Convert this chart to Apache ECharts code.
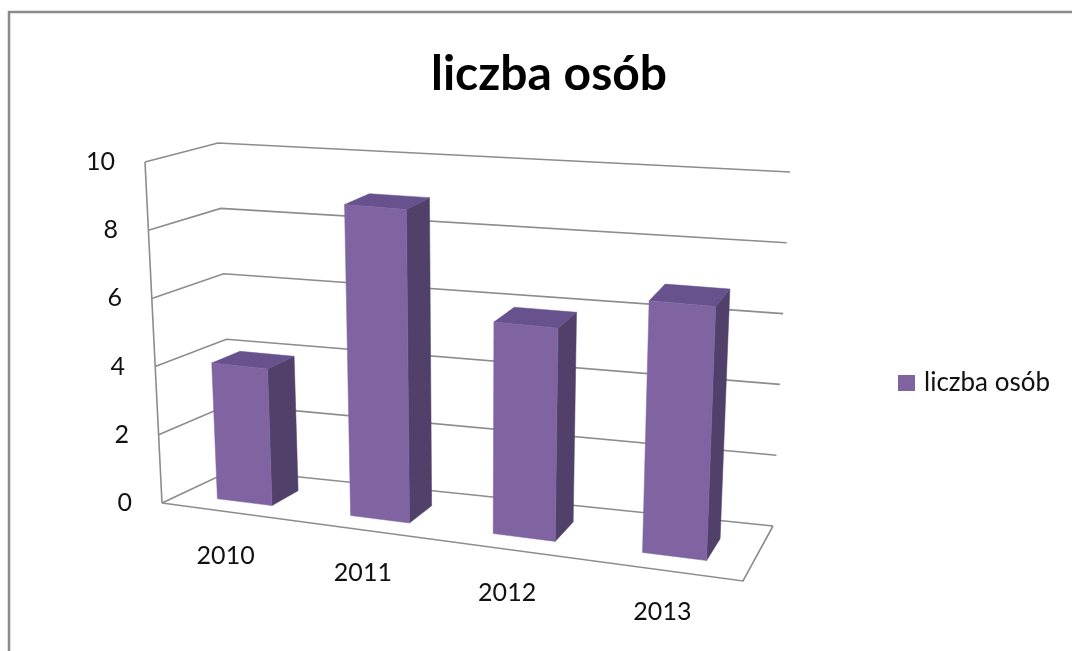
<!DOCTYPE html>
<html>
<head>
<meta charset="utf-8">
<title>liczba osób</title>
<script src="https://cdn.jsdelivr.net/npm/echarts@6/dist/echarts.min.js"></script>
<style>
html, body { margin: 0; padding: 0; background: #fff; }
#chart { width: 1072px; height: 651px; }
</style>
</head>
<body>
<div id="chart"></div>
<script>
const years = ['2010', '2011', '2012', '2013']
const liczbaOsob = [4, 9, 6, 7]
const yTicks = [0, 2, 4, 6, 8, 10]

const FONT = 'Lato, "Open Sans", sans-serif'
const LINE = '#8c8c8c'
const FRONT = '#8064a2'
const SIDE = '#51416a'
const TOP = '#67528e'

// screen corners of the pseudo-3D box: front-left, front-right, back-right, back-left
const floorCorners = [[162, 503], [743, 581], [773, 526], [232, 470]]
const topCorners = [[145, 162], [758, 212], [790, 172], [218, 143]]

const bilerp = (c, u, w) => {
  const [p00, p10, p11, p01] = c
  return [0, 1].map(k =>
    p00[k] * (1 - u) * (1 - w) + p10[k] * u * (1 - w) + p11[k] * u * w + p01[k] * (1 - u) * w)
}

// mild perspective: things on the right come out a bit wider
const warp = u => u - u * (1 - u) * (0.08 + 0.05 * (1 - u))

// u: 0..1 across, t: 0..1 up, w: 0..1 into depth
const project = (u, t, w) => {
  const uu = warp(u)
  const a = bilerp(floorCorners, uu, w)
  const b = bilerp(topCorners, uu, w)
  return [a[0] + (b[0] - a[0]) * t, a[1] + (b[1] - a[1]) * t]
}

const barRatio = 0.42
const barDepth = [0.27, 0.68]

const renderBar = (params, api) => {
  const cs = params.coordSys
  const base = api.coord([api.value(0), 0])
  const top = api.coord([api.value(0), api.value(1)])
  const band = api.size([1, 0])[0]
  const uc = (base[0] - cs.x) / cs.width
  const half = band * barRatio / 2 / cs.width
  const t = (base[1] - top[1]) / cs.height
  const u0 = uc - half, u1 = uc + half
  const [w0, w1] = barDepth
  const face = (pts, color) => ({
    type: 'polygon',
    shape: { points: pts },
    style: { fill: color, stroke: color, lineWidth: 0.5 }
  })
  return {
    type: 'group',
    children: [
      face([project(u1, 0, w0), project(u1, 0, w1), project(u1, t, w1), project(u1, t, w0)], SIDE),
      face([project(u0, t, w0), project(u1, t, w0), project(u1, t, w1), project(u0, t, w1)], TOP),
      face([project(u0, 0, w0), project(u1, 0, w0), project(u1, t, w0), project(u0, t, w0)], FRONT)
    ]
  }
}

const renderGridLine = (params, api) => {
  const cs = params.coordSys
  const p = api.coord([0, api.value(1)])
  const t = (cs.y + cs.height - p[1]) / cs.height
  const line = pts => ({
    type: 'polyline',
    shape: { points: pts },
    style: { stroke: LINE, lineWidth: 1.6, fill: null }
  })
  const children = [line([project(0, t, 0), project(0, t, 1), project(1, t, 1)])]
  if (api.value(1) === 0) {
    children.push(line([project(0, 0, 0), project(1, 0, 0), project(1, 0, 1)]))
    children.push(line([project(0, 0, 0), project(0, 1, 0)]))
  }
  return { type: 'group', children }
}

// per-label nudges so the labels follow the tilted axes
const yRich = {}
yTicks.forEach((v, i) => {
  yRich['t' + i] = { fontSize: 25, fontFamily: FONT, color: '#111', padding: [0, Math.round(17 * v / 10), 0, 0] }
})
const xShift = [[0, 18], [17, 34], [37, 36], [56, 16]]
const xRich = {}
years.forEach((y, i) => {
  xRich['c' + i] = { fontSize: 25, fontFamily: FONT, color: '#111', padding: [xShift[i][0], xShift[i][1], 0, 0] }
})

const chart = echarts.init(document.getElementById('chart'))

chart.setOption({
  backgroundColor: '#fff',
  animation: false,
  graphic: [{
    type: 'rect',
    shape: { x: 9, y: 12, width: 1100, height: 700 },
    style: { fill: null, stroke: '#8a8a8a', lineWidth: 2.5 },
    silent: true
  }],
  title: {
    text: 'liczba osób',
    left: 426,
    top: 46,
    textStyle: { fontFamily: FONT, fontSize: 48, fontWeight: 'bold', color: '#000' }
  },
  legend: {
    data: ['liczba osób'],
    left: 893,
    top: 365,
    icon: 'rect',
    itemWidth: 17,
    itemHeight: 16,
    textStyle: { fontFamily: FONT, fontSize: 26, color: '#111', padding: [0, 0, 0, 4] }
  },
  grid: {
    left: 162,
    right: 1072 - 743,
    top: 162,
    bottom: 651 - 503,
    containLabel: false
  },
  xAxis: {
    type: 'category',
    data: years,
    axisLine: { show: false },
    axisTick: { show: false },
    splitLine: { show: false },
    axisLabel: {
      margin: 40,
      formatter: (value, index) => `{c${index}|${value}}`,
      rich: xRich
    }
  },
  yAxis: {
    type: 'value',
    min: 0,
    max: 10,
    interval: 2,
    axisLine: { show: false },
    axisTick: { show: false },
    splitLine: { show: false },
    axisLabel: {
      margin: 30,
      formatter: value => `{t${yTicks.indexOf(value)}|${value}}`,
      rich: yRich
    }
  },
  series: [
    {
      name: 'siatka',
      type: 'custom',
      silent: true,
      renderItem: renderGridLine,
      encode: { x: 0, y: 1 },
      data: yTicks.map(v => [0, v]),
      z: 1
    },
    {
      name: 'liczba osób',
      type: 'custom',
      renderItem: renderBar,
      encode: { x: 0, y: 1 },
      itemStyle: { color: FRONT },
      data: liczbaOsob.map((v, i) => [i, v]),
      z: 2
    }
  ]
})
</script>
</body>
</html>
